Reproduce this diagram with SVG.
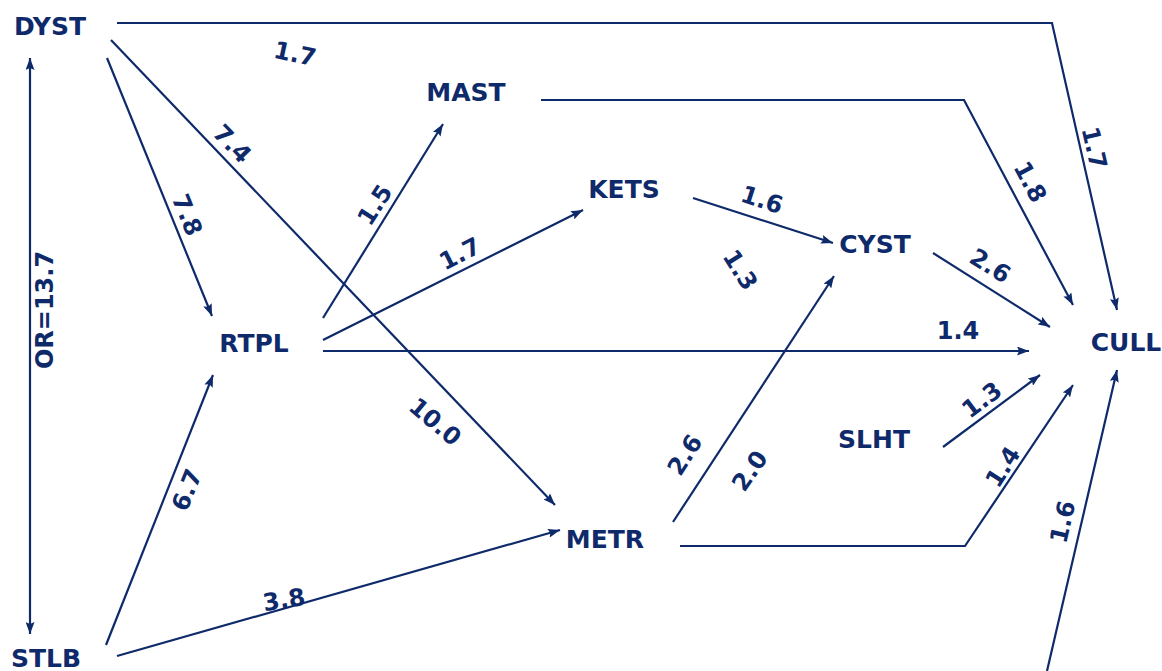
<svg xmlns="http://www.w3.org/2000/svg" width="1162" height="671" viewBox="0 0 1162 671">
<style>
.n{font-family:"DejaVu Sans","Liberation Sans",sans-serif;font-weight:bold;font-size:25px;fill:#0f2a6b;text-anchor:middle}
.l{font-family:"DejaVu Sans","Liberation Sans",sans-serif;font-weight:bold;font-size:24px;fill:#0f2a6b;text-anchor:middle;dominant-baseline:central}
.e{fill:none;stroke:#0f2a6b;stroke-width:2.2}
</style>
<defs>
<marker id="a" viewBox="0 0 12 9" refX="12" refY="4.5" markerWidth="12" markerHeight="9" markerUnits="userSpaceOnUse" orient="auto-start-reverse">
<path d="M0,0 L12,4.5 L0,9 L2,4.5 z" fill="#0f2a6b"/>
</marker>
</defs>
<rect width="1162" height="671" fill="#ffffff"/>
<g id="connectors">
<path class="e" d="M117,23 L1052,23 L1117,310" marker-end="url(#a)"/>
<path class="e" d="M541,100 L964,100 L1073,305" marker-end="url(#a)"/>
<path class="e" d="M107,58 L212,316" marker-end="url(#a)"/>
<path class="e" d="M111,40 L555,505" marker-end="url(#a)"/>
<path class="e" d="M323,318 L443,124" marker-end="url(#a)"/>
<path class="e" d="M323,340 L583,210" marker-end="url(#a)"/>
<path class="e" d="M323,351 L1029,351" marker-end="url(#a)"/>
<path class="e" d="M693,198 L833,243" marker-end="url(#a)"/>
<path class="e" d="M933,253 L1050,327" marker-end="url(#a)"/>
<path class="e" d="M943,447 L1040,375" marker-end="url(#a)"/>
<path class="e" d="M680,546 L965,546 L1073,385" marker-end="url(#a)"/>
<path class="e" d="M673,522 L834,276" marker-end="url(#a)"/>
<path class="e" d="M1047,671 L1117,370" marker-end="url(#a)"/>
<path class="e" d="M106,645 L213,375" marker-end="url(#a)"/>
<path class="e" d="M117,656 L560,530" marker-end="url(#a)"/>
<path class="e" d="M30,58 L30,634" marker-start="url(#a)" marker-end="url(#a)"/>
<text class="l" transform="translate(295,54) rotate(12)">1.7</text>
<text class="l" transform="translate(1094,148) rotate(77)">1.7</text>
<text class="l" transform="translate(1030,182) rotate(62)">1.8</text>
<text class="l" transform="translate(187,215) rotate(68)">7.8</text>
<text class="l" transform="translate(232,144) rotate(46)">7.4</text>
<text class="l" transform="translate(435,422) rotate(40)">10.0</text>
<text class="l" transform="translate(375,205) rotate(-57)">1.5</text>
<text class="l" transform="translate(460,254) rotate(-27)">1.7</text>
<text class="l" transform="translate(958,331)">1.4</text>
<text class="l" transform="translate(762,200) rotate(18)">1.6</text>
<text class="l" transform="translate(740,270) rotate(58)">1.3</text>
<text class="l" transform="translate(990,266) rotate(32)">2.6</text>
<text class="l" transform="translate(982,400) rotate(-37)">1.3</text>
<text class="l" transform="translate(1003,467) rotate(-57)">1.4</text>
<text class="l" transform="translate(685,455) rotate(-57)">2.6</text>
<text class="l" transform="translate(750,471) rotate(-55)">2.0</text>
<text class="l" transform="translate(1063,522) rotate(-77)">1.6</text>
<text class="l" transform="translate(187,490) rotate(-68)">6.7</text>
<text class="l" transform="translate(284,600) rotate(-9)">3.8</text>
<text class="l" transform="translate(45,310) rotate(-90)">OR=13.7</text>
</g>
<g id="DYST"><text class="n" x="50" y="35">DYST</text></g>
<g id="MAST"><text class="n" x="466" y="101">MAST</text></g>
<g id="KETS"><text class="n" x="624" y="198">KETS</text></g>
<g id="CYST"><text class="n" x="875" y="253">CYST</text></g>
<g id="CULL"><text class="n" x="1126" y="351">CULL</text></g>
<g id="RTPL"><text class="n" x="254" y="352">RTPL</text></g>
<g id="SLHT"><text class="n" x="874" y="448">SLHT</text></g>
<g id="METR"><text class="n" x="605" y="548">METR</text></g>
<g id="STLB"><text class="n" x="46" y="667">STLB</text></g>
</svg>
